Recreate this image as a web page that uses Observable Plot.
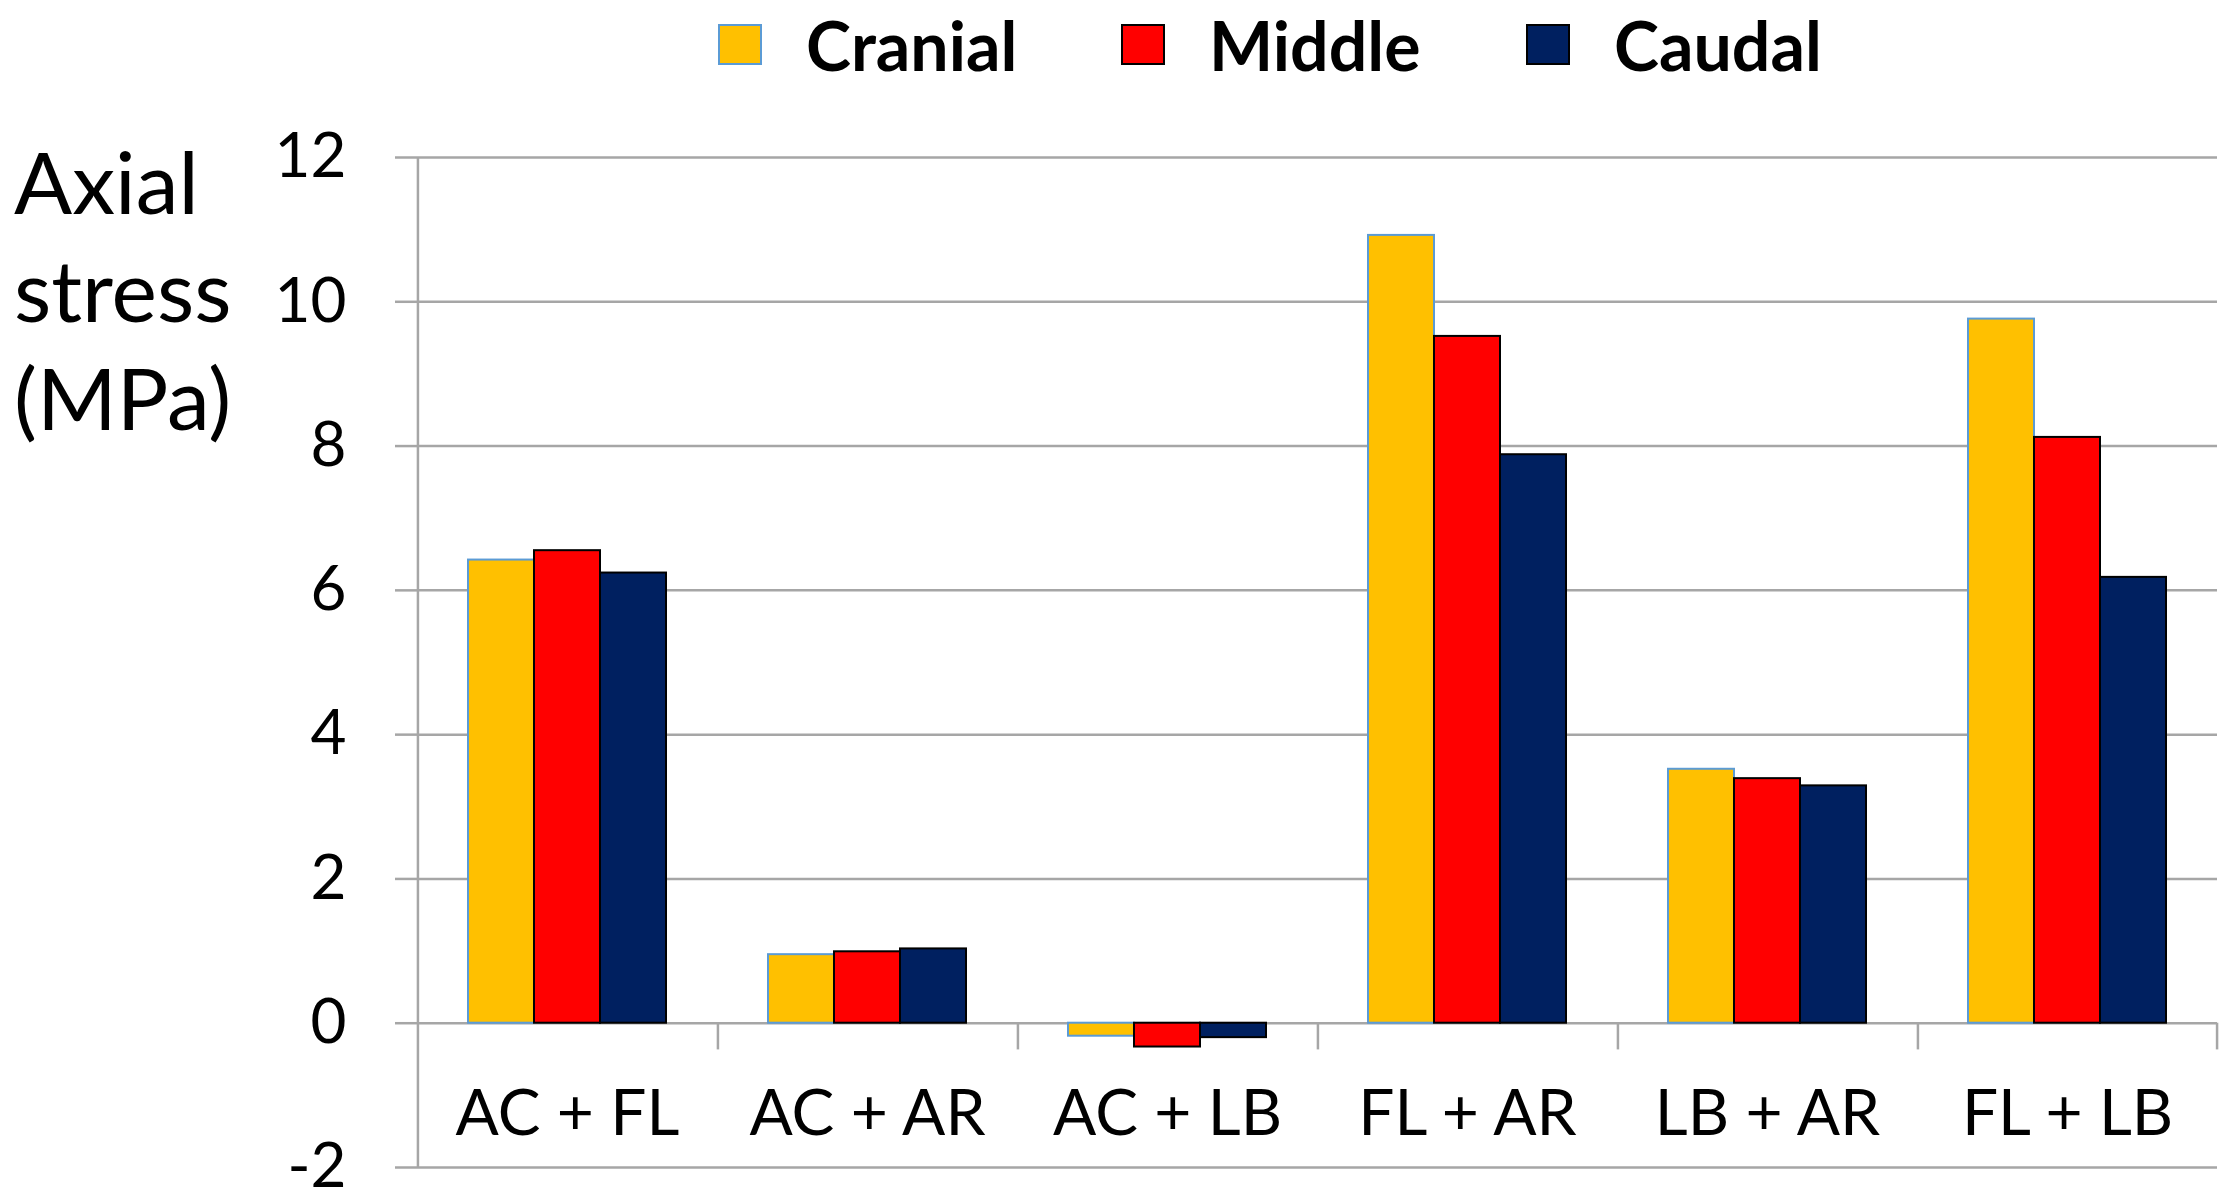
<!DOCTYPE html>
<html>
<head>
<meta charset="utf-8">
<script src="https://cdn.jsdelivr.net/npm/d3@7"></script>
<script src="https://cdn.jsdelivr.net/npm/@observablehq/plot@0.6"></script>
<style>
  html, body { margin: 0; padding: 0; background: #fff; }
  body { position: relative; width: 2240px; height: 1204px; overflow: hidden; font-family: Lato, "Open Sans", sans-serif; }
  #legend { position: absolute; top: 0; left: 0; width: 2240px; height: 100px; z-index: 2; }
  .item { position: absolute; top: 0; height: 88px; display: flex; align-items: center; }
  .sw { width: 44px; height: 41px; box-sizing: border-box; border: 2px solid; }
  .lab { margin-left: 44px; font-weight: 700; font-size: 68px; color: #000; }
  #ytitle { position: absolute; left: 14px; top: 127px; font-size: 86px; line-height: 108px; color: #000; z-index: 2; }
  #chart { position: absolute; left: 0; top: 100px; z-index: 1; }
</style>
</head>
<body>
<div id="chart"></div>
<div id="legend"></div>
<div id="ytitle">Axial<br>stress<br>(MPa)</div>
<script>
// ---- data ----
const categories = ["AC + FL", "AC + AR", "AC + LB", "FL + AR", "LB + AR", "FL + LB"];
const series = ["Cranial", "Middle", "Caudal"];
const cranial = [6.42, 0.95, -0.18, 10.92, 3.52, 9.76];
const middle  = [6.55, 0.99, -0.33, 9.52, 3.39, 8.12];
const caudal  = [6.24, 1.03, -0.20, 7.88, 3.29, 6.18];
const yTicks = [-2, 0, 2, 4, 6, 8, 10, 12];

// ---- styles ----
const fills = ["#FFC000", "#FF0000", "#002060"];
const strokes = ["#5B9BD5", "#000000", "#000000"];
const gridColor = "#a6a6a6";

const valuesBySeries = [cranial, middle, caudal];
const rows = [];
series.forEach((s, si) => categories.forEach((c, ci) => rows.push({category: c, series: s, value: valuesBySeries[si][ci]})));

// ---- layout ----
const W = 2240, H = 1104, mL = 414, mR = 21, mT = 57, mB = 37;
const po = 0.75;
const facetW = (W - mL - mR) / categories.length;
const step = facetW / (series.length + 2 * po);
const edge = step * (0.5 + po);
const labelY = -1.27;
const tickDepth = -0.37;

// legend
const legendLefts = [718, 1121, 1526];
const legend = document.getElementById("legend");
series.forEach((s, i) => {
  const it = document.createElement("div");
  it.className = "item";
  it.style.left = legendLefts[i] + "px";
  it.innerHTML = `<div class="sw" style="background:${fills[i]};border-color:${strokes[i]}"></div><div class="lab">${s}</div>`;
  legend.appendChild(it);
});

const barMarks = series.map((s, i) =>
  Plot.barY(rows.filter(d => d.series === s), {
    fx: "category", x: "series", y: "value",
    fill: fills[i], stroke: strokes[i], strokeWidth: 2
  })
);

const plot = Plot.plot({
  width: W, height: H,
  marginLeft: mL, marginRight: mR, marginTop: mT, marginBottom: mB,
  style: {fontFamily: "Lato, 'Open Sans', sans-serif", background: "transparent"},
  fx: {domain: categories, padding: 0, axis: null},
  x: {domain: series, paddingInner: 0, paddingOuter: po, axis: null},
  y: {domain: [-2, 12]},
  marks: [
    Plot.ruleY(yTicks, {stroke: gridColor, strokeWidth: 2.5}),
    Plot.axisY(yTicks, {tickSize: 22, tickPadding: 49, fontSize: 62, stroke: gridColor, strokeWidth: 2.5, fill: "#000", label: null, tickFormat: d => String(d)}),
    Plot.ruleX([categories[0]], {fx: d => d, x: () => series[0], y1: () => -2, y2: () => 12, dx: -edge, stroke: gridColor, strokeWidth: 2.5}),
    Plot.ruleX(categories.slice(1), {fx: d => d, x: () => series[0], y1: () => 0, y2: () => tickDepth, dx: -edge, stroke: gridColor, strokeWidth: 2.5}),
    Plot.ruleX([categories[categories.length - 1]], {fx: d => d, x: () => series[series.length - 1], y1: () => 0, y2: () => tickDepth, dx: edge, stroke: gridColor, strokeWidth: 2.5}),
    ...barMarks,
    Plot.text(categories, {fx: d => d, text: d => d, y: () => labelY, fontSize: 64, fill: "#000"})
  ]
});
document.getElementById("chart").appendChild(plot);
</script>
</body>
</html>
